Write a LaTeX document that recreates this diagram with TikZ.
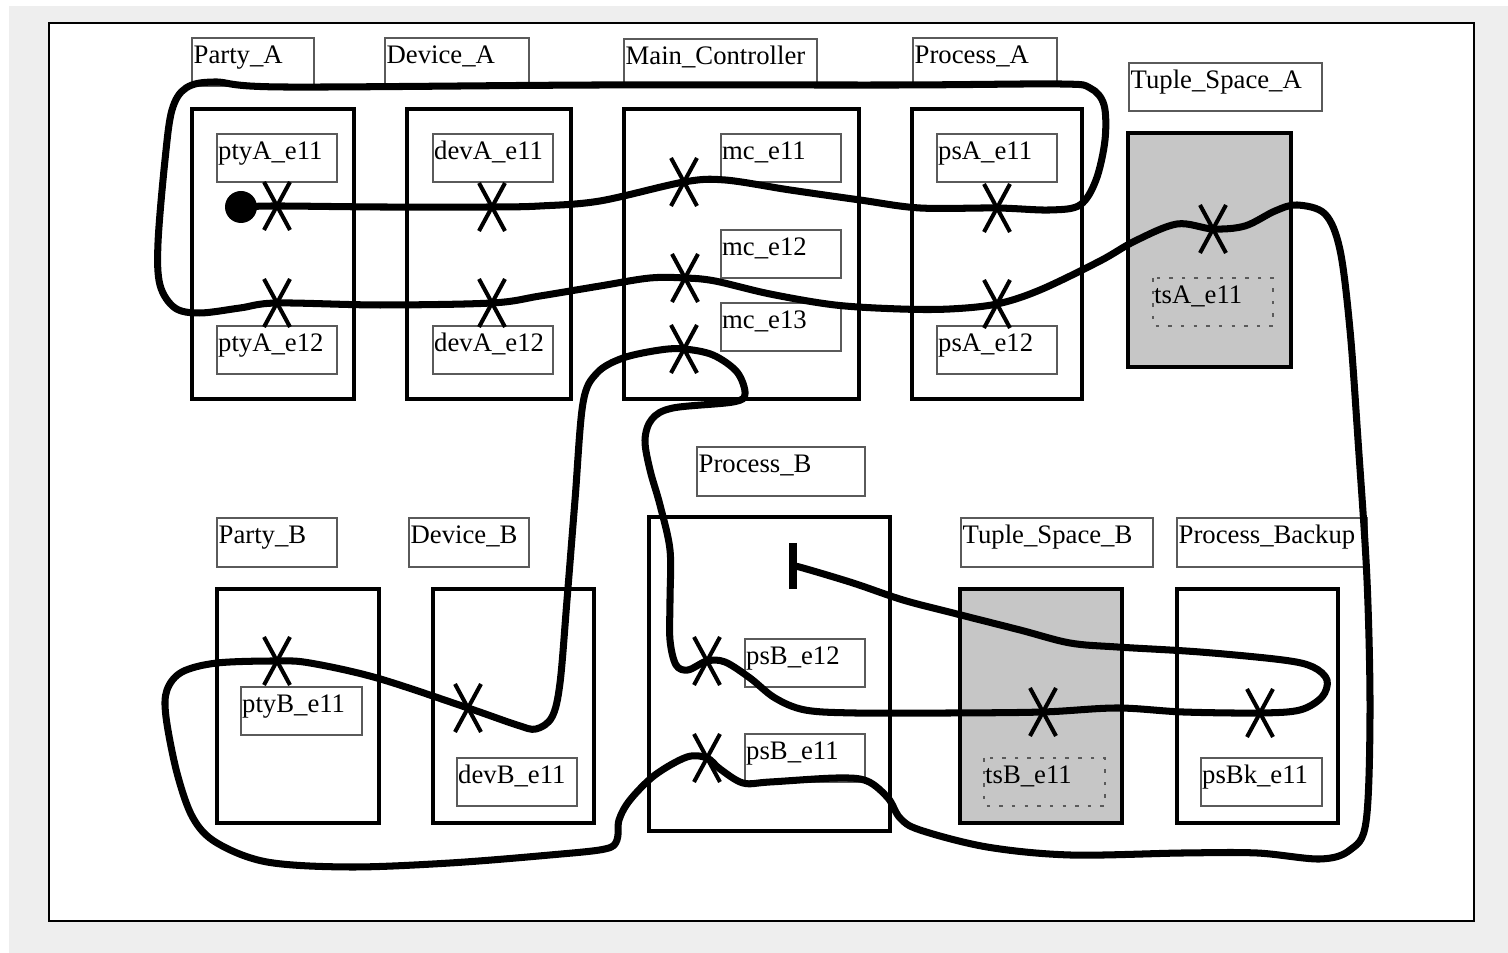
\documentclass[tikz,border=0pt]{standalone}
\usepackage{fontspec}
\setmainfont{Liberation Serif}
\usepackage{tikz}
\usetikzlibrary{calc}
\definecolor{bggray}{HTML}{EEEEEE}
\definecolor{tsfill}{HTML}{C6C6C6}
\definecolor{lblline}{HTML}{5A5A5A}
\tikzset{every node/.append style={font=\fontsize{7.6}{9}\selectfont}}

\begin{document}
\begin{tikzpicture}[x=0.1mm,y=-0.1mm,
  comp/.style={draw=black,line width=1.25pt},
  lbl/.style={draw=lblline,line width=.35pt},
  dynbox/.style={draw=lblline,line width=.35pt,dash pattern=on 1pt off 2.6pt},
  txt/.style={anchor=base west,inner sep=0pt},
  ucm/.style={line width=2pt,line cap=round,line join=round},
  resp/.pic={\draw[line width=1.15pt] (-13,-24) -- (13,24) (-13,24) -- (13,-24);}]
  \useasboundingbox (0,0) rectangle (1508,953);
  \fill[bggray] (9,6) rectangle (1508,953);
  \draw[fill=white,line width=.45pt] (49,23) rectangle (1474,921);
  % components
  \draw[comp] (192,109) rectangle (354,399);
  \draw[comp] (407,109) rectangle (571,399);
  \draw[comp] (624,109) rectangle (859,399);
  \draw[comp] (912,109) rectangle (1082,399);
  \draw[comp,fill=tsfill] (1128,133) rectangle (1291,367);
  \draw[comp] (217,589) rectangle (379,823);
  \draw[comp] (433,589) rectangle (594,823);
  \draw[comp] (649,517) rectangle (890,831);
  \draw[comp,fill=tsfill] (960,589) rectangle (1122,823);
  \draw[comp] (1177,589) rectangle (1338,823);
  % component labels
  \draw[lbl] (192,38) rectangle +(122,48);
  \node[txt] (partyA) at (193,64) {Party\_A};
  \draw[lbl] (385,38) rectangle +(144,48);
  \node[txt] (deviceA) at (386,64) {Device\_A};
  \draw[lbl] (624,39) rectangle +(193,48);
  \node[txt] (mainctl) at (625,65) {Main\_Controller};
  \draw[lbl] (913,38) rectangle +(144,48);
  \node[txt] (procA) at (914,64) {Process\_A};
  \draw[lbl] (1129,63) rectangle +(193,48);
  \node[txt] (tsA) at (1130,89) {Tuple\_Space\_A};
  \draw[lbl] (217,518) rectangle +(120,49);
  \node[txt] (partyB) at (218,544) {Party\_B};
  \draw[lbl] (409,518) rectangle +(120,49);
  \node[txt] (deviceB) at (410,544) {Device\_B};
  \draw[lbl] (697,447) rectangle +(168,49);
  \node[txt] (procB) at (698,473) {Process\_B};
  \draw[lbl] (961,518) rectangle +(192,49);
  \node[txt] (tsB) at (962,544) {Tuple\_Space\_B};
  \draw[lbl] (1177,518) rectangle +(190,49);
  \node[txt] (procBk) at (1178,544) {Process\_Backup};
  % responsibility labels
  \draw[lbl] (217,134) rectangle +(120,48);
  \node[txt] (ptyAe11) at (217.5,160) {ptyA\_e11};
  \draw[lbl] (217,326) rectangle +(120,48);
  \node[txt] (ptyAe12) at (217.5,352) {ptyA\_e12};
  \draw[lbl] (433,134) rectangle +(120,48);
  \node[txt] (devAe11) at (433.5,160) {devA\_e11};
  \draw[lbl] (433,326) rectangle +(120,48);
  \node[txt] (devAe12) at (433.5,352) {devA\_e12};
  \draw[lbl] (721,134) rectangle +(120,48);
  \node[txt] (mce11) at (721.5,160) {mc\_e11};
  \draw[lbl] (721,230) rectangle +(120,48);
  \node[txt] (mce12) at (721.5,256) {mc\_e12};
  \draw[lbl] (721,303) rectangle +(120,48);
  \node[txt] (mce13) at (721.5,329) {mc\_e13};
  \draw[lbl] (937,134) rectangle +(120,48);
  \node[txt] (psAe11) at (937.5,160) {psA\_e11};
  \draw[lbl] (937,326) rectangle +(120,48);
  \node[txt] (psAe12) at (937.5,352) {psA\_e12};
  \draw[dynbox] (1153,278) rectangle +(120,48);
  \node[txt] (tsAe11) at (1153.5,304) {tsA\_e11};
  \draw[lbl] (241,687) rectangle +(121,48);
  \node[txt] (ptyBe11) at (241.5,713) {ptyB\_e11};
  \draw[lbl] (457,758) rectangle +(120,48);
  \node[txt] (devBe11) at (457.5,784) {devB\_e11};
  \draw[lbl] (745,639) rectangle +(120,48);
  \node[txt] (psBe12) at (745.5,665) {psB\_e12};
  \draw[lbl] (745,734) rectangle +(120,48);
  \node[txt] (psBe11) at (745.5,760) {psB\_e11};
  \draw[dynbox] (984,758) rectangle +(121,48);
  \node[txt] (tsBe11) at (984.5,784) {tsB\_e11};
  \draw[lbl] (1201,758) rectangle +(121,48);
  \node[txt] (psBke11) at (1201.5,784) {psBk\_e11};
  % path points
  \coordinate (start) at (241,207);
  \coordinate (finish) at (793,566);
  \coordinate (rA1) at (277,206);
  \coordinate (rD1) at (492,207);
  \coordinate (rM1) at (684,182);
  \coordinate (rP1) at (997,208);
  \coordinate (rA2) at (277,303);
  \coordinate (rD2) at (492,303);
  \coordinate (rM2) at (685,278);
  \coordinate (rP2) at (997,304);
  \coordinate (rT1) at (1213,229);
  \coordinate (rB1) at (707,758);
  \coordinate (rQ1) at (277,661);
  \coordinate (rE1) at (468,708);
  \coordinate (rM3) at (684,349);
  \coordinate (rB2) at (707,661);
  \coordinate (rT2) at (1043,712);
  \coordinate (rK1) at (1260,713);
  \draw[ucm] plot[smooth,tension=.55] coordinates {
    (start) (rA1) (380,207) (rD1) (540,206) (600,201) (rM1) (725,180)
    (790,190) (860,200) (920,208) (rP1) (1050,210) (1080,205) (1096,180)
    (1105,140) (1104,105) (1090,88) (1060,84) (900,85) (600,85) (283,87)
    (215,82) (186,88) (172,110) (165,160) (158,243) (160,285) (175,308)
    (200,313) (240,308) (rA2) (380,305) (rD2) (540,296) (600,286)
    (650,278) (rM2) (715,281) (770,294) (835,305) (900,309) (950,309)
    (rP2) (1040,290) (1100,261) (1135,241) (1177,224) (rT1) (1245,226)
    (1275,211) (1297,205) (1325,214) (1340,250) (1350,330) (1358,440)
    (1367,580) (1370,713) (1366,822) (1350,850) (1320,859) (1257,853)
    (1183,853) (1070,855) (987,847) (920,830) (900,818) (888,798)
    (867,781) (837,778) (770,782) (743,783) (720,769) (rB1) (687,757)
    (655,775) (630,800) (619,820) (617,840) (605,849) (550,855)
    (450,863) (350,867) (267,862) (217,843) (193,818) (177,773)
    (166,717) (167,690) (182,672) (217,663) (rQ1) (310,663) (377,678)
    (rE1) (517,725) (536,729) (552,717) (560,683) (567,600) (575,500)
    (583,403) (597,373) (623,358) (660,350) (rM3) (713,355) (737,372)
    (745,394) (733,402) (673,408) (652,419) (645,440) (650,470)
    (660,505) (670,550) (670,600) (670,640) (676,665) (688,670) (rB2)
    (725,662) (750,678) (775,698) (805,710) (855,713) (950,713) (rT2)
    (1117,708) (1183,712) (rK1) (1300,710) (1322,697) (1327,680)
    (1313,667) (1283,660) (1200,652) (1117,647) (1070,643) (1020,630)
    (953,613) (903,600) (853,583) (803,568) (finish)};
  % responsibilities
  \foreach \r in {rA1,rD1,rM1,rP1,rA2,rD2,rM2,rP2,rT1,rB1,rQ1,rE1,rM3,rB2,rT2,rK1}
    \pic at (\r) {resp};
  \fill (start) circle (16);
  \draw[line width=2pt] ($(finish)+(0,-23)$) -- ($(finish)+(0,23)$);
\end{tikzpicture}
\end{document}
